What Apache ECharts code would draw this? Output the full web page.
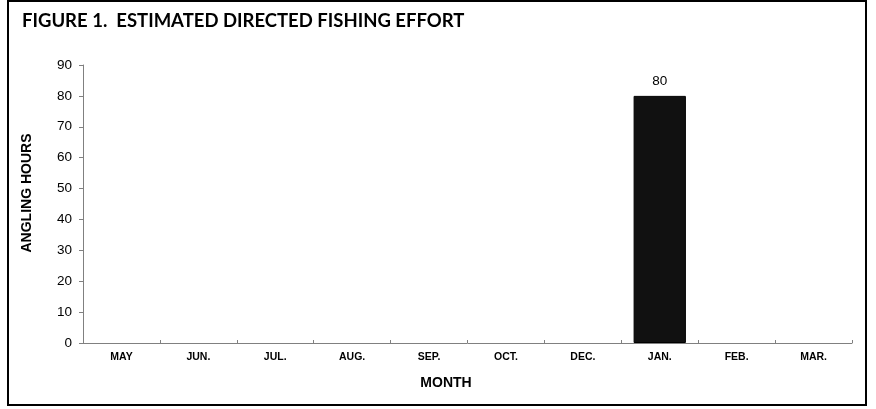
<!DOCTYPE html>
<html>
<head>
<meta charset="utf-8">
<script src="https://cdn.jsdelivr.net/npm/echarts@6/dist/echarts.min.js"></script>
<style>
  html, body { margin: 0; padding: 0; background: #fff; }
  #chart { width: 876px; height: 409px; }
</style>
</head>
<body>
<div id="chart"></div>
<script>
// data
var months = ['MAY', 'JUN.', 'JUL.', 'AUG.', 'SEP.', 'OCT.', 'DEC.', 'JAN.', 'FEB.', 'MAR.']
var hours = [null, null, null, null, null, null, null, 80, null, null]
var yTicks = [0, 10, 20, 30, 40, 50, 60, 70, 80, 90]

var chart = echarts.init(document.getElementById('chart'))

var option = {
  backgroundColor: '#fff',
  animation: false,
  title: {
    text: 'FIGURE 1.  ESTIMATED DIRECTED FISHING EFFORT',
    left: 17,
    top: 7,
    textStyle: {
      fontFamily: 'Lato',
      fontWeight: 'bold',
      fontSize: 18.5,
      color: '#000'
    }
  },
  grid: {
    left: 83,
    right: 24,
    top: 65,
    bottom: 66
  },
  xAxis: {
    type: 'category',
    data: months,
    axisLine: { lineStyle: { color: '#808080', width: 1 } },
    axisTick: { show: true, inside: true, length: 3, lineStyle: { color: '#808080' } },
    axisLabel: {
      fontFamily: 'Liberation Sans',
      fontWeight: 'bold',
      fontSize: 10.5,
      color: '#000',
      margin: 9
    }
  },
  yAxis: {
    type: 'value',
    min: yTicks[0],
    max: yTicks[yTicks.length - 1],
    interval: 10,
    splitLine: { show: false },
    axisLine: { show: true, lineStyle: { color: '#808080', width: 1 } },
    axisTick: { show: true, length: 4, lineStyle: { color: '#808080' } },
    axisLabel: {
      fontFamily: 'Liberation Sans',
      fontSize: 13.5,
      color: '#000',
      margin: 11
    }
  },
  series: [
    {
      type: 'bar',
      data: hours,
      barWidth: '68%',
      itemStyle: { color: '#111', borderColor: '#000', borderWidth: 1 },
      label: {
        show: true,
        position: 'top',
        distance: 8,
        fontFamily: 'Liberation Sans',
        fontSize: 13.5,
        color: '#000'
      }
    }
  ],
  graphic: [
    {
      type: 'rect',
      shape: { x: 8, y: 1, width: 858, height: 404 },
      style: { fill: null, stroke: '#000', lineWidth: 2 },
      silent: true
    },
    {
      type: 'text',
      x: 27,
      y: 193,
      rotation: Math.PI / 2,
      style: {
        text: 'ANGLING HOURS',
        font: 'bold 14px "Liberation Sans"',
        fill: '#000',
        align: 'center',
        verticalAlign: 'middle'
      }
    },
    {
      type: 'text',
      x: 446,
      y: 383,
      style: {
        text: 'MONTH',
        font: 'bold 14px "Liberation Sans"',
        fill: '#000',
        align: 'center',
        verticalAlign: 'middle'
      }
    }
  ]
}

chart.setOption(option)
</script>
</body>
</html>
